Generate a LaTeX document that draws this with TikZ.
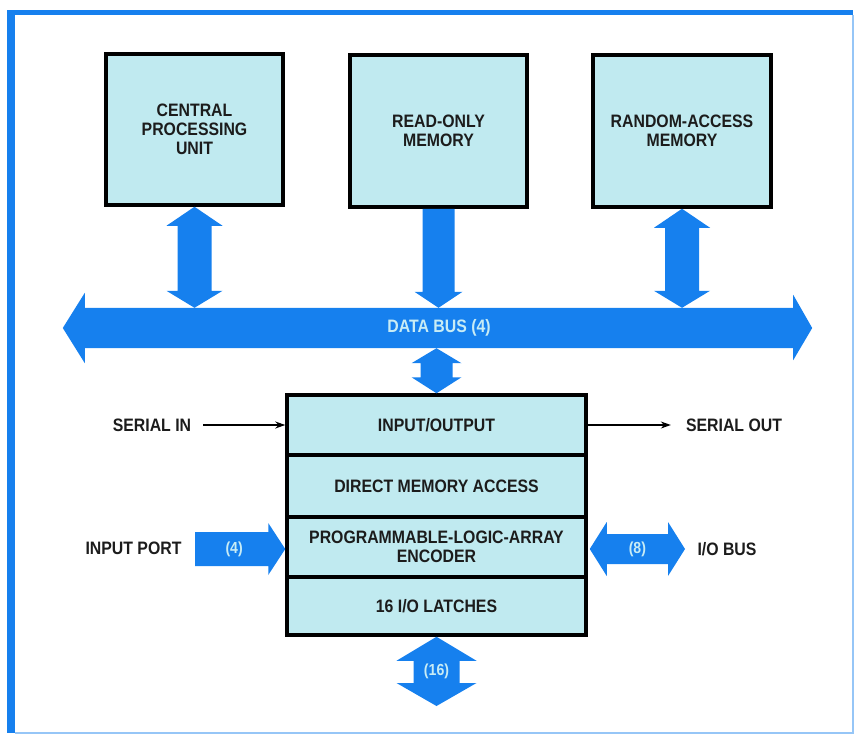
\documentclass[tikz,border=0pt]{standalone}
\usepackage{fontspec}
\setmainfont{Liberation Sans}[FakeStretch=0.88]
\usetikzlibrary{calc,arrows.meta}
\definecolor{busblue}{RGB}{22,128,238}
\definecolor{boxfill}{RGB}{192,234,240}
\definecolor{ink}{RGB}{28,28,28}
\definecolor{pale}{RGB}{200,236,245}
\newcommand{\vdarrow}[6]{\fill[busblue] (#1) -- ($(#1)+(#4,#5)$) -- ($(#1)+(#3,#5)$) -- ($(#2)+(#3,-#6)$) -- ($(#2)+(#4,-#6)$) -- (#2) -- ($(#2)+(-#4,-#6)$) -- ($(#2)+(-#3,-#6)$) -- ($(#1)+(-#3,#5)$) -- ($(#1)+(-#4,#5)$) -- cycle;}
\newcommand{\hdarrow}[5]{\fill[busblue] (#1) -- ($(#1)+(#5,-#4)$) -- ($(#1)+(#5,-#3)$) -- ($(#2)+(-#5,-#3)$) -- ($(#2)+(-#5,-#4)$) -- (#2) -- ($(#2)+(-#5,#4)$) -- ($(#2)+(-#5,#3)$) -- ($(#1)+(#5,#3)$) -- ($(#1)+(#5,#4)$) -- cycle;}
\begin{document}
\begin{tikzpicture}[x=1pt,y=-1pt,
  font=\bfseries\fontsize{18}{19}\selectfont,
  blk/.style={draw=black, line width=3.5pt, fill=boxfill, inner sep=0pt, align=center, text=ink},
  lbl/.style={text=ink, inner sep=6pt},
  arrlbl/.style={text=pale, font=\bfseries\fontsize{16}{18}\selectfont},
  thinarrow/.style={draw=black, line width=1.2pt, -{Stealth[length=10pt,width=7pt]}}]
\useasboundingbox (0,0) rectangle (856,734);
% frame
\fill[busblue] (7,10) rectangle (853,15);
\fill[busblue] (7,10) rectangle (15,733);
\draw[busblue!45, line width=1.5pt] (853,15) -- (853,733) -- (15,733);
% top boxes
\node[blk, minimum width=177, minimum height=151] (cpu) at (194.5,129.5) {CENTRAL\\PROCESSING\\UNIT};
\node[blk, minimum width=177, minimum height=152] (rom) at (438.5,131) {READ-ONLY\\MEMORY};
\node[blk, minimum width=178, minimum height=152] (ram) at (682,131) {RANDOM-ACCESS\\MEMORY};
% data bus
\node[minimum width=708, minimum height=40, inner sep=0pt] (bus) at (439,328) {};
\fill[busblue] (bus.north west) -- (bus.north east) -- ($(bus.north east)+(0,-13)$) -- ($(bus.east)+(19,0)$) -- ($(bus.south east)+(0,12)$) -- (bus.south east) -- (bus.south west) -- ($(bus.south west)+(0,15)$) -- ($(bus.west)+(-22,0)$) -- ($(bus.north west)+(0,-15)$) -- cycle;
\node[text=pale] (buslbl) at (bus.center) {DATA BUS (4)};
% arrows to bus
\vdarrow{cpu.south}{cpu.south |- bus.north}{17}{28}{19}{17}
\vdarrow{ram.south}{ram.south |- bus.north}{17}{28}{19}{17}
\coordinate (romb) at (rom.south |- bus.north);
\fill[busblue] ($(rom.south)+(-16,0)$) -- ($(rom.south)+(16,0)$) -- ($(romb)+(16,-16)$) -- ($(romb)+(24,-16)$) -- (romb) -- ($(romb)+(-24,-16)$) -- ($(romb)+(-16,-16)$) -- cycle;
% main box
\node[blk, minimum width=299, minimum height=60] (io) at (436.5,425) {INPUT/OUTPUT};
\node[blk, minimum width=299, minimum height=62] (dma) at (436.5,486) {DIRECT MEMORY ACCESS};
\node[blk, minimum width=299, minimum height=60] (pla) at (436.5,547) {PROGRAMMABLE-LOGIC-ARRAY\\ENCODER};
\node[blk, minimum width=299, minimum height=58] (lat) at (436.5,606) {16 I/O LATCHES};
\vdarrow{bus.south -| io.north}{io.north}{16}{25}{15}{16}
% serial
\node[lbl] (sin) at (152,425) {SERIAL IN};
\node[lbl] (sout) at (734,425) {SERIAL OUT};
\draw[thinarrow, shorten <=6pt] (sin) -- (io);
\draw[thinarrow, shorten >=9pt] (io) -- (sout);
% input port
\node[lbl] (ip) at (133.5,548) {INPUT PORT};
\coordinate (ipt) at (195,549);
\coordinate (iph) at (pla.west |- ipt);
\fill[busblue] ($(ipt)+(0,-17)$) -- ($(iph)+(-17,-17)$) -- ($(iph)+(-17,-26)$) -- (iph) -- ($(iph)+(-17,26)$) -- ($(iph)+(-17,17)$) -- ($(ipt)+(0,17)$) -- cycle;
\node[arrlbl] (ipn) at ($(ipt)!0.5!(iph)+(-6,0)$) {(4)};
% io bus
\coordinate (iobl) at ($(pla.east |- ipt)+(2,0)$);
\coordinate (iobr) at (685,549);
\hdarrow{iobl}{iobr}{15}{27}{17}
\node[arrlbl] (iobn) at ($(iobl)!0.5!(iobr)$) {(8)};
\node[lbl] (iob) at (727,549) {I/O BUS};
% bottom 16
\coordinate (b16) at (lat.south |- 0,706);
\vdarrow{lat.south}{b16}{23}{40}{24}{23}
\node[arrlbl] (n16) at ($(lat.south)!0.5!(b16)$) {(16)};
\end{tikzpicture}
\end{document}
